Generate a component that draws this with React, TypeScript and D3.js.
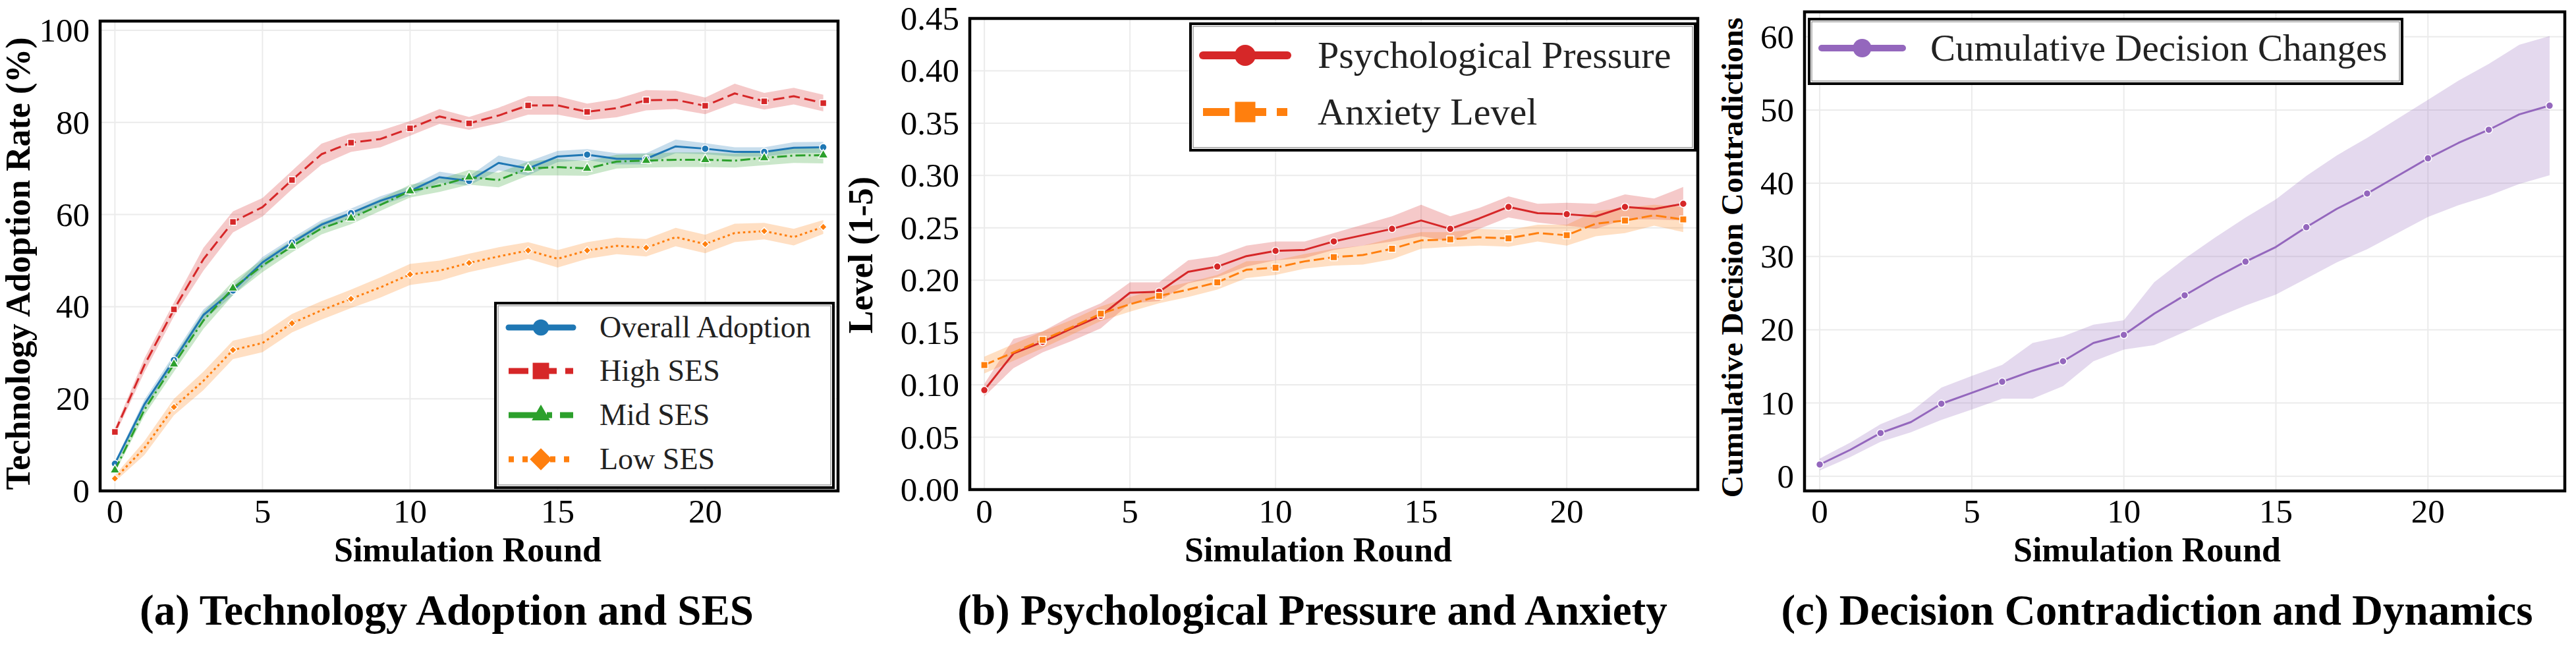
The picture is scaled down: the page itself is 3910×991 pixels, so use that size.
import React from 'react';
import * as d3 from 'd3';

// ---- shared x categories ----
const rounds = [0, 1, 2, 3, 4, 5, 6, 7, 8, 9, 10, 11, 12, 13, 14, 15, 16, 17, 18, 19, 20, 21, 22, 23, 24];
const xTicks = [0, 5, 10, 15, 20];

// ---- (a) technology adoption by SES ----
const adoptionTicks = [0, 20, 40, 60, 80, 100];
const overallAdoption = [5.9, 18.8, 28.4, 38.2, 43.5, 49.6, 53.9, 57.8, 60.3, 63.0, 65.1, 68.1, 67.3, 71.2, 70.0, 72.6, 73.0, 72.1, 72.1, 74.8, 74.3, 73.6, 73.6, 74.5, 74.6];
const overallCI = [0.5, 1.0, 1.2, 1.2, 1.0, 1.2, 1.0, 1.0, 1.0, 1.0, 1.0, 1.2, 1.0, 1.6, 1.5, 1.2, 1.2, 1.2, 1.2, 1.5, 1.2, 1.0, 1.0, 1.2, 1.2];
const highSES = [12.8, 27.3, 39.4, 50.3, 58.4, 61.6, 67.5, 73.1, 75.6, 76.4, 78.7, 81.3, 79.8, 81.5, 83.7, 83.7, 82.3, 83.1, 84.8, 84.9, 83.6, 86.3, 84.6, 85.7, 84.2];
const highCI = [0.8, 1.5, 1.5, 2.5, 2.3, 2.0, 2.0, 2.3, 2.0, 1.8, 1.6, 1.6, 1.4, 1.7, 2.0, 2.0, 1.8, 2.0, 2.2, 2.0, 1.8, 2.1, 1.8, 1.8, 1.8];
const midSES = [4.5, 17.6, 27.5, 37.0, 44.0, 48.9, 53.1, 57.0, 59.2, 62.1, 65.1, 66.3, 68.1, 67.5, 70.0, 70.3, 70.0, 71.5, 71.7, 71.9, 71.9, 71.7, 72.3, 72.8, 72.9];
const midCI = [0.6, 1.2, 1.6, 1.8, 1.5, 1.4, 1.3, 1.3, 1.3, 1.3, 1.4, 1.4, 1.6, 1.6, 1.5, 1.8, 1.6, 1.5, 1.5, 1.6, 1.6, 1.5, 1.6, 1.6, 1.8];
const lowSES = [2.7, 9.3, 18.2, 23.9, 30.6, 32.1, 36.4, 39.2, 41.7, 44.2, 47.0, 47.8, 49.5, 50.9, 52.2, 50.4, 52.2, 53.2, 52.8, 55.1, 53.6, 56.0, 56.4, 55.1, 57.3];
const lowCI = [0.7, 1.5, 1.8, 2.0, 2.0, 2.0, 2.0, 2.0, 2.0, 2.2, 2.3, 2.2, 2.0, 2.0, 1.8, 1.9, 1.8, 1.8, 1.9, 2.0, 2.0, 2.0, 1.8, 1.8, 1.5];

// ---- (b) pressure and anxiety ----
const levelTicks = [0, 0.05, 0.1, 0.15, 0.2, 0.25, 0.3, 0.35, 0.4, 0.45];
const pressure = [0.095, 0.130, 0.141, 0.154, 0.166, 0.188, 0.189, 0.208, 0.213, 0.223, 0.228, 0.229, 0.237, 0.243, 0.249, 0.257, 0.249, 0.259, 0.270, 0.264, 0.263, 0.261, 0.270, 0.268, 0.273];
const pressureCI = [0.006, 0.014, 0.010, 0.012, 0.012, 0.010, 0.009, 0.011, 0.010, 0.010, 0.009, 0.008, 0.008, 0.010, 0.012, 0.015, 0.012, 0.010, 0.010, 0.009, 0.011, 0.012, 0.012, 0.010, 0.016];
const anxiety = [0.119, 0.131, 0.143, 0.155, 0.168, 0.177, 0.185, 0.191, 0.198, 0.210, 0.212, 0.218, 0.222, 0.224, 0.230, 0.238, 0.239, 0.241, 0.240, 0.245, 0.243, 0.254, 0.257, 0.262, 0.258];
const anxietyCI = [0.008, 0.008, 0.008, 0.007, 0.007, 0.007, 0.007, 0.007, 0.007, 0.008, 0.007, 0.007, 0.008, 0.009, 0.010, 0.008, 0.007, 0.008, 0.008, 0.008, 0.010, 0.012, 0.012, 0.010, 0.012];

// ---- (c) cumulative decision changes ----
const contradictionTicks = [0, 10, 20, 30, 40, 50, 60];
const decisionChanges = [1.6, 3.6, 5.9, 7.4, 9.9, 11.4, 12.9, 14.4, 15.7, 18.2, 19.3, 22.2, 24.7, 27.1, 29.3, 31.3, 34.0, 36.5, 38.6, 41.0, 43.4, 45.5, 47.3, 49.4, 50.6];
const decisionCI = [0.8, 1.0, 1.2, 1.4, 2.2, 2.3, 2.3, 3.8, 3.4, 2.5, 2.0, 4.3, 5.0, 5.5, 6.0, 6.5, 7.0, 7.3, 7.6, 7.8, 8.0, 8.5, 9.0, 9.5, 9.5];

const FONT = '"Liberation Serif", "Times New Roman", Times, serif';

const symbolPath = (kind, size) => {
  const type = kind === 'circle' ? d3.symbolCircle : kind === 'triangle' ? d3.symbolTriangle : d3.symbolSquare;
  return d3.symbol().type(type).size(size)();
};

const Marker = ({ kind, cx, cy, size, color, edge }) => (
  <path
    d={symbolPath(kind, size)}
    transform={`translate(${cx},${cy})${kind === 'diamond' ? ' rotate(45)' : ''}`}
    fill={color}
    stroke="#fff"
    strokeWidth={edge}
  />
);

const panels = [
  {
    key: 'a',
    left: 152, right: 1272, top: 32, bottom: 745,
    yDomain: [0, 102], yTicks: adoptionTicks, yFmt: d => String(d),
    ylabel: 'Technology Adoption Rate (%)', ylabelX: 45, ylabelY: 400, ylabelSize: 52,
    xlabelX: 710, caption: '(a) Technology Adoption and SES', captionX: 678,
    series: [
      { name: 'Overall Adoption', values: overallAdoption, ci: overallCI, color: '#1f77b4', dash: null, legendDash: null, marker: 'circle', size: 95, legendSize: 470 },
      { name: 'High SES', values: highSES, ci: highCI, color: '#d62728', dash: '17,7', legendDash: '30,13', marker: 'square', size: 100, legendSize: 620 },
      { name: 'Mid SES', values: midSES, ci: midCI, color: '#2ca02c', dash: '15,5,3,5', legendDash: '46,12,8,12', marker: 'triangle', size: 95, legendSize: 330 },
      { name: 'Low SES', values: lowSES, ci: lowCI, color: '#ff7f0e', dash: '3.5,4.5', legendDash: '8,13', marker: 'diamond', size: 64, legendSize: 560 },
    ],
    legend: { x0: 752, y0: 460, x1: 1265, y1: 740, rows: [497, 563, 630, 697], h0: 772, h1: 870, textX: 910, font: 46, lw: 9 },
  },
  {
    key: 'b',
    left: 1472, right: 2577, top: 28, bottom: 743,
    yDomain: [0, 0.45], yTicks: levelTicks, yFmt: d3.format('.2f'),
    ylabel: 'Level (1-5)', ylabelX: 1324, ylabelY: 387, ylabelSize: 52,
    xlabelX: 2001, caption: '(b) Psychological Pressure and Anxiety', captionX: 1992,
    series: [
      { name: 'Psychological Pressure', values: pressure, ci: pressureCI, color: '#d62728', dash: null, legendDash: null, marker: 'circle', size: 95, legendSize: 800 },
      { name: 'Anxiety Level', values: anxiety, ci: anxietyCI, color: '#ff7f0e', dash: '16,6', legendDash: '40,16', marker: 'square', size: 110, legendSize: 960 },
    ],
    legend: { x0: 1807, y0: 36, x1: 2573, y1: 228, rows: [84, 170], h0: 1826, h1: 1954, textX: 2000, font: 58, lw: 12 },
  },
  {
    key: 'c',
    left: 2739, right: 3893, top: 18, bottom: 745,
    yDomain: [-2, 63.4], yTicks: contradictionTicks, yFmt: d => String(d),
    ylabel: 'Cumulative Decision Contradictions', ylabelX: 2645, ylabelY: 391, ylabelSize: 47,
    xlabelX: 3259, caption: '(c) Decision Contradiction and Dynamics', captionX: 3274,
    series: [
      { name: 'Cumulative Decision Changes', values: decisionChanges, ci: decisionCI, color: '#9467bd', dash: null, legendDash: null, marker: 'circle', size: 95, legendSize: 620 },
    ],
    legend: { x0: 2746, y0: 29, x1: 3646, y1: 127, rows: [73], h0: 2765, h1: 2888, textX: 2930, font: 57, lw: 10 },
  },
];

const Panel = ({ p }) => {
  const x = d3.scaleLinear().domain([-0.5, 24.5]).range([p.left, p.right]);
  const y = d3.scaleLinear().domain(p.yDomain).range([p.bottom, p.top]);
  const lg = p.legend;

  return (
    <g>
      {/* grid */}
      {p.yTicks.map(t => (
        <line key={'gy' + t} x1={p.left} x2={p.right} y1={y(t)} y2={y(t)} stroke="#ebebeb" strokeWidth={2} />
      ))}
      {xTicks.map(t => (
        <line key={'gx' + t} x1={x(t)} x2={x(t)} y1={p.top} y2={p.bottom} stroke="#ebebeb" strokeWidth={2} />
      ))}

      {/* confidence bands */}
      {p.series.map(s => {
        const area = d3.area()
          .x((_, i) => x(rounds[i]))
          .y0((d, i) => y(d - s.ci[i]))
          .y1((d, i) => y(d + s.ci[i]));
        return <path key={'band' + s.name} d={area(s.values)} fill={s.color} opacity={0.25} />;
      })}

      {/* lines + markers */}
      {p.series.map(s => {
        const line = d3.line().x((_, i) => x(rounds[i])).y(d => y(d));
        return (
          <g key={'ln' + s.name}>
            <path d={line(s.values)} fill="none" stroke={s.color} strokeWidth={3}
              strokeDasharray={s.dash || undefined} strokeLinejoin="round" />
            {rounds.filter(r => r % 2 === 0).map(r => (
              <Marker key={r} kind={s.marker} cx={x(r)} cy={y(s.values[r])} size={s.size} color={s.color} edge={1.5} />
            ))}
          </g>
        );
      })}

      {/* tick labels */}
      {p.yTicks.map(t => (
        <text key={'ty' + t} x={p.left - 16} y={y(t)} textAnchor="end" dominantBaseline="central"
          fontFamily={FONT} fontSize={51} fill="#000">{p.yFmt(t)}</text>
      ))}
      {xTicks.map(t => (
        <text key={'tx' + t} x={x(t)} y={793} textAnchor="middle"
          fontFamily={FONT} fontSize={51} fill="#000">{t}</text>
      ))}

      {/* frame */}
      <rect x={p.left} y={p.top} width={p.right - p.left} height={p.bottom - p.top}
        fill="none" stroke="#000" strokeWidth={4.5} />

      {/* axis labels and caption */}
      <text x={p.xlabelX} y={852} textAnchor="middle" fontFamily={FONT} fontWeight="bold" fontSize={52}>Simulation Round</text>
      <text transform={`translate(${p.ylabelX},${p.ylabelY}) rotate(-90)`} textAnchor="middle"
        fontFamily={FONT} fontWeight="bold" fontSize={p.ylabelSize}>{p.ylabel}</text>
      <text x={p.captionX} y={948} textAnchor="middle" fontFamily={FONT} fontWeight="bold" fontSize={65}>{p.caption}</text>

      {/* legend */}
      <rect x={lg.x0} y={lg.y0} width={lg.x1 - lg.x0} height={lg.y1 - lg.y0} fill="#fff" stroke="#000" strokeWidth={4} />
      <rect x={lg.x0 + 4} y={lg.y0 + 4} width={lg.x1 - lg.x0 - 8} height={lg.y1 - lg.y0 - 8} fill="none" stroke="#888" strokeWidth={1.2} />
      {p.series.map((s, i) => {
        const cy = lg.rows[i];
        const mid = (lg.h0 + lg.h1) / 2;
        return (
          <g key={'lg' + s.name}>
            <line x1={lg.h0} x2={lg.h1} y1={cy} y2={cy} stroke={s.color} strokeWidth={lg.lw}
              strokeDasharray={s.legendDash || undefined} strokeLinecap={s.legendDash ? 'butt' : 'round'} />
            <Marker kind={s.marker} cx={mid} cy={cy} size={s.legendSize} color={s.color} edge={0} />
            <text x={lg.textX} y={cy + lg.font * 0.33} fontFamily={FONT} fontSize={lg.font} fill="#222">{s.name}</text>
          </g>
        );
      })}
    </g>
  );
};

export default function App() {
  return (
    <svg width={3910} height={991} viewBox="0 0 3910 991"
      style={{ position: 'absolute', left: 0, top: 0, background: '#fff' }}>
      <rect x={0} y={0} width={3910} height={991} fill="#fff" />
      {panels.map(p => <Panel key={p.key} p={p} />)}
    </svg>
  );
}
